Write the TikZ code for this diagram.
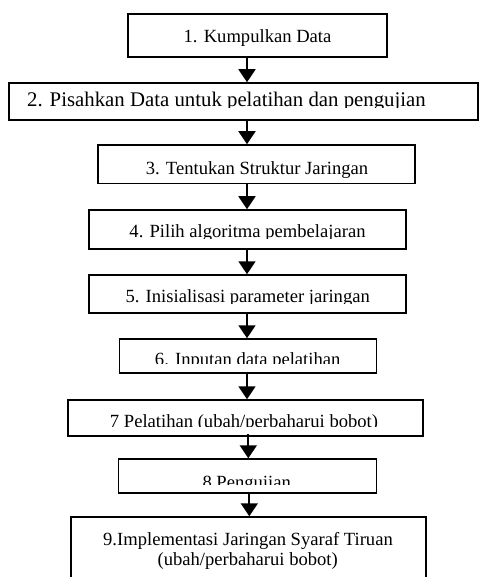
\documentclass[tikz,border=0pt]{standalone}
\usepackage{fontspec}
\setmainfont{Liberation Serif}
\usetikzlibrary{arrows.meta}

\tikzset{
  langkah/.style={draw, line width=1.5pt, inner sep=0pt},
  panah/.style={line width=1.8pt, -{Triangle[width=17pt,length=13pt]}},
  teks/.style={anchor=base, inner sep=0pt, font=\fontsize{18.6}{20}\selectfont},
}

\begin{document}
\begin{tikzpicture}[x=1pt,y=-1pt]
  \useasboundingbox (0,0) rectangle (479,577);
  % kotak langkah
  \node[langkah, minimum width=259pt, minimum height=43pt] (k1) at (257.5,35.5) {};
  \node[langkah, minimum width=469pt, minimum height=37pt] (k2) at (243.5,101.5) {};
  \node[langkah, minimum width=317pt, minimum height=38.5pt] (k3) at (256.5,164.2) {};
  \node[langkah, minimum width=317pt, minimum height=39pt] (k4) at (247.5,229.5) {};
  \node[langkah, minimum width=317pt, minimum height=38pt] (k5) at (247.5,294) {};
  \node[langkah, minimum width=257pt, minimum height=34pt] (k6) at (248,356) {};
  \node[langkah, minimum width=355pt, minimum height=36pt] (k7) at (245.5,418) {};
  \node[langkah, minimum width=258pt, minimum height=34pt] (k8) at (247.5,476) {};
  \node[langkah, minimum width=355pt, minimum height=83pt] (k9) at (248.5,558.5) {};
  % teks (terpotong di bawah)
  \node[teks] (t1) at (257.5,43) {1. Kumpulkan Data};
  \begin{scope}
    \clip (k2.north west) rectangle (478,107.5);
    \node[teks, font=\fontsize{20.8}{22}\selectfont] (t2) at (226.5,106.5) {2. Pisahkan Data untuk pelatihan dan pengujian};
  \end{scope}
  \begin{scope}
    \clip (k3.north west) rectangle (415,178);
    \node[teks] (t3) at (257,174.5) {3. Tentukan Struktur Jaringan};
  \end{scope}
  \begin{scope}
    \clip (k4.north west) rectangle (406,238.5);
    \node[teks] (t4) at (247.5,237.7) {4. Pilih algoritma pembelajaran};
  \end{scope}
  \begin{scope}
    \clip (k5.north west) rectangle (406,303);
    \node[teks] (t5) at (247.7,302.3) {5. Inisialisasi parameter jaringan};
  \end{scope}
  \begin{scope}
    \clip (k6.north west) rectangle (376,363.3);
    \node[teks] (t6) at (247.7,365.5) {6. Inputan data pelatihan};
  \end{scope}
  \begin{scope}
    \clip (k7.north west) rectangle (423,426.5);
    \node[teks] (t7) at (244,427) {7 Pelatihan (ubah/perbaharui bobot)};
  \end{scope}
  \begin{scope}
    \clip (k8.north west) rectangle (376,484);
    \node[teks] (t8) at (246.7,488.5) {8 Pengujian};
  \end{scope}
  \node[teks] (t9a) at (248,545.7) {9.Implementasi Jaringan Syaraf Tiruan};
  \node[teks] (t9b) at (247.7,565) {(ubah/perbaharui bobot)};
  % panah
  \coordinate (ax) at (247,0);
  \coordinate (bx) at (248.3,0);
  \coordinate (cx) at (249.3,0);
  \draw[panah] (k1.south -| ax) -- (k2.north -| ax);
  \draw[panah] (k2.south -| ax) -- (k3.north -| ax);
  \draw[panah] (k3.south -| ax) -- (k4.north -| ax);
  \draw[panah] (k4.south -| ax) -- (k5.north -| ax);
  \draw[panah] (k5.south -| ax) -- (k6.north -| ax);
  \draw[panah] (k6.south -| ax) -- (k7.north -| ax);
  \draw[panah] ([yshift=3pt]k7.south -| bx) -- (k8.north -| bx);
  \draw[panah] (k8.south -| cx) -- (k9.north -| cx);
\end{tikzpicture}
\end{document}
